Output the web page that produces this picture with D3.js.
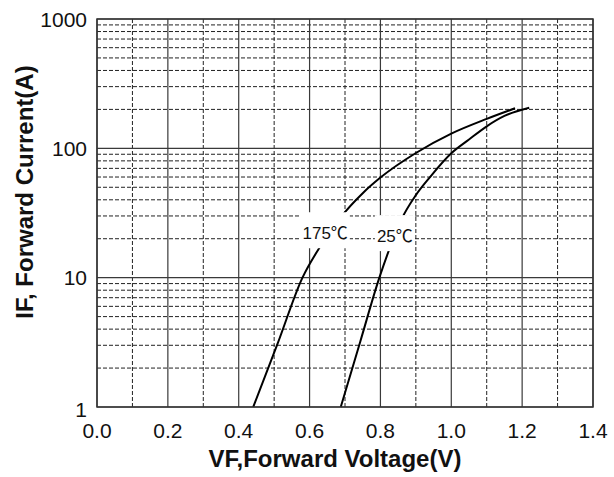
<!DOCTYPE html>
<html><head><meta charset="utf-8">
<script src="https://cdn.jsdelivr.net/npm/d3@7"></script>
<style>body{margin:0;background:#fff}</style></head>
<body><svg id="c" width="614" height="477"></svg>
<script>
// ---- data ----
const xTicks = [0, 0.2, 0.4, 0.6, 0.8, 1.0, 1.2, 1.4];
const xTickLabels = ["0.0", "0.2", "0.4", "0.6", "0.8", "1.0", "1.2", "1.4"];
const xMinor = [0.1, 0.3, 0.5, 0.7, 0.9, 1.1, 1.3];
const yTicks = [1, 10, 100, 1000];
const yTickLabels = ["1", "10", "100", "1000"];
const yMinorMult = [2, 3, 4, 5, 6, 7, 8, 9];
const yDecades = [1, 10, 100];

const v175 = [0.441, 0.51, 0.58, 0.63, 0.69, 0.75, 0.80, 0.90, 1.00, 1.10, 1.18];
const i175 = [1, 3.1, 10, 17.4, 29.8, 45, 59.4, 92, 130, 169, 204];
const v25 = [0.688, 0.743, 0.797, 0.83, 0.86, 0.90, 0.94, 1.00, 1.05, 1.10, 1.15, 1.22];
const i25 = [1, 3.2, 10, 18, 28.5, 43.5, 60, 91.6, 117, 148, 178, 206];
const seriesTemps = ["175", "25"];
const unitSymbol = "\u2103";
const labelAnchorV = [0.58, 0.79];
const labelAnchorI = [20, 19];

const xTitle = "VF,Forward Voltage(V)";
const yTitle = "IF, Forward Current(A)";

// ---- chart ----
const svg = d3.select("#c");
const x = d3.scaleLinear().domain([0, 1.4]).range([97, 593]);
const y = d3.scaleLog().domain([1, 1000]).range([407, 19]);
const font = "Arial, 'Liberation Sans', Helvetica, sans-serif";

svg.append("rect").attr("width", 614).attr("height", 477).attr("fill", "#fff");

const g = svg.append("g");
const yMinor = [];
yDecades.forEach(d => yMinorMult.forEach(k => yMinor.push(d * k)));
g.selectAll(".hm").data(yMinor).join("line")
  .attr("x1", x(0)).attr("x2", x(1.4))
  .attr("y1", d => y(d)).attr("y2", d => y(d))
  .attr("stroke", "#222").attr("stroke-width", 1).attr("stroke-dasharray", "4,2");
g.selectAll(".vm").data(xMinor).join("line")
  .attr("x1", d => x(d)).attr("x2", d => x(d))
  .attr("y1", y(1)).attr("y2", y(1000))
  .attr("stroke", "#222").attr("stroke-width", 1).attr("stroke-dasharray", "4,2");
g.selectAll(".hM").data(yTicks).join("line")
  .attr("x1", x(0)).attr("x2", x(1.4))
  .attr("y1", d => y(d)).attr("y2", d => y(d))
  .attr("stroke", "#3a3a3a").attr("stroke-width", 1.2);
g.selectAll(".vM").data(xTicks).join("line")
  .attr("x1", d => x(d)).attr("x2", d => x(d))
  .attr("y1", y(1)).attr("y2", y(1000))
  .attr("stroke", "#3a3a3a").attr("stroke-width", 1.2);

// curves
const line = d3.line().x(d => x(d[0])).y(d => y(d[1])).curve(d3.curveMonotoneX);
const s175 = v175.map((v, i) => [v, i175[i]]);
const s25 = v25.map((v, i) => [v, i25[i]]);
svg.selectAll(".curve").data([s175, s25]).join("path")
  .attr("d", line).attr("fill", "none").attr("stroke", "#000").attr("stroke-width", 2);

// labels with white boxes
seriesTemps.forEach((t, i) => {
  const lg = svg.append("g");
  const r = lg.append("rect").attr("fill", "#fff");
  const tx = lg.append("text")
    .attr("x", x(labelAnchorV[i])).attr("y", y(labelAnchorI[i]) + 0.5)
    .attr("font-family", font).attr("font-size", 17).attr("fill", "#111");
  tx.append("tspan").text(t);
  tx.append("tspan").attr("font-family", "'Noto Sans CJK SC', 'DejaVu Sans', sans-serif").text(unitSymbol);
  const bb = tx.node().getBBox();
  r.attr("x", bb.x - 2).attr("y", bb.y - 7).attr("width", bb.width + 4).attr("height", bb.height + 11);
});

// border
svg.append("rect").attr("x", x(0)).attr("y", y(1000))
  .attr("width", x(1.4) - x(0)).attr("height", y(1) - y(1000))
  .attr("fill", "none").attr("stroke", "#333").attr("stroke-width", 1.5);

// tick labels
svg.selectAll(".xl").data(xTicks).join("text")
  .attr("x", d => x(d)).attr("y", 438)
  .attr("text-anchor", "middle").attr("font-family", font).attr("font-size", 21).attr("fill", "#111")
  .text((d, i) => xTickLabels[i]);
svg.selectAll(".yl").data(yTicks).join("text")
  .attr("x", 87).attr("y", d => y(d) + 7.5 + (d === 1 ? 2 : 0))
  .attr("text-anchor", "end").attr("font-family", font).attr("font-size", 21).attr("fill", "#111")
  .text((d, i) => yTickLabels[i]);

// titles
svg.append("text").text(xTitle)
  .attr("x", 335).attr("y", 467).attr("text-anchor", "middle")
  .attr("font-family", font).attr("font-weight", "bold").attr("font-size", 24).attr("fill", "#111");
svg.append("text").text(yTitle)
  .attr("transform", "translate(33,192) rotate(-90)").attr("text-anchor", "middle")
  .attr("font-family", font).attr("font-weight", "bold").attr("font-size", 24).attr("fill", "#111");
</script>
</body></html>
